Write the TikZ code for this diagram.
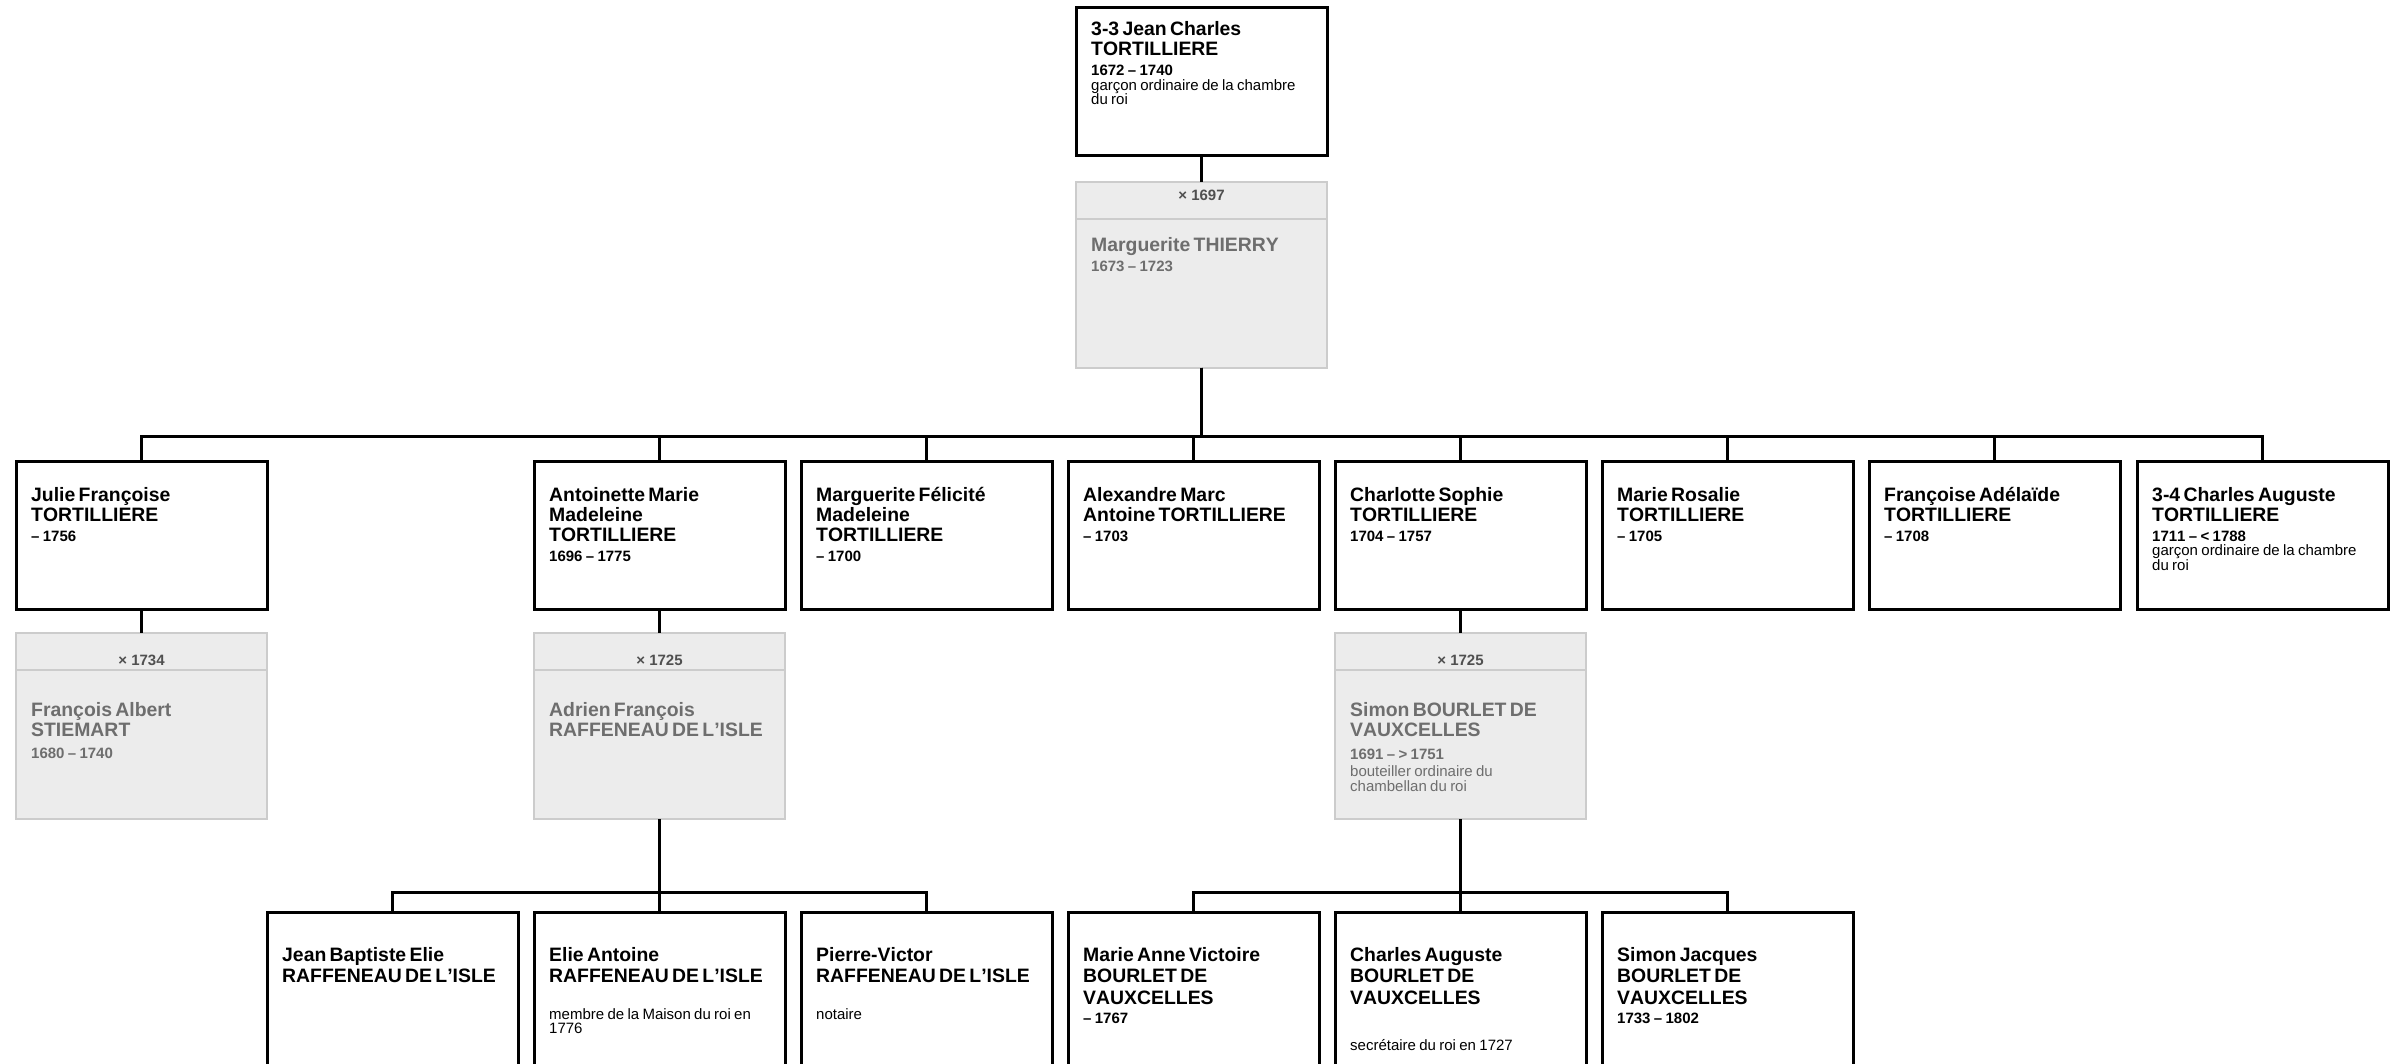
\documentclass[tikz,border=0pt]{standalone}
\usepackage{fontspec}
\setmainfont{Liberation Sans}[Kerning=Off]
\usepackage{tikz}
\definecolor{spousefill}{HTML}{ECECEC}
\definecolor{spouseline}{HTML}{CCCCCC}
\definecolor{spousetext}{HTML}{6E6E6E}
\definecolor{spousehead}{HTML}{505050}
\newcommand{\nm}{\fontsize{19.4}{20}\selectfont\bfseries}
\newcommand{\dt}{\fontsize{15}{20}\selectfont\bfseries}
\newcommand{\oc}{\fontsize{15}{14.5}\selectfont\mdseries}
\tikzset{
  conn/.style={line width=3pt, black},
  personbox/.style={draw, line width=3pt, minimum width=251pt, minimum height=148pt, inner sep=0pt, outer sep=0pt, anchor=north},
  spousebox/.style={draw=spouseline, fill=spousefill, line width=2pt, minimum width=251pt, minimum height=186pt, inner sep=0pt, outer sep=0pt, anchor=north},
  boxtext/.style={anchor=base west, inner sep=0pt, text width=236pt, align=left},
  headtext/.style={anchor=base, inner sep=0pt, text=spousehead, font=\fontsize{15}{15}\selectfont\bfseries},
}
% #1 id, #2 left, #3 top, #4 first baseline, #5 text
\newcommand{\person}[5]{
  \node[personbox] (#1) at (#2+125.5, #3) {};
  \node[boxtext] (#1-t) at (#2+15, #3+#4) {#5\par};
}
% #1 id, #2 left, #3 top, #4 marriage, #5 its baseline, #6 first baseline, #7 text
\newcommand{\spouse}[7]{
  \node[spousebox] (#1) at (#2+125.5, #3) {};
  \draw[spouseline, line width=2pt] (#2, #3+37) -- (#2+251, #3+37);
  \node[headtext] (#1-h) at (#2+125.5, #3+#5) {#4};
  \node[boxtext, text=spousetext] (#1-t) at (#2+15, #3+#6) {#7\par};
}

\begin{document}
\begin{tikzpicture}[x=1pt, y=-1pt]
  \clip (0,0) rectangle (2390,1064);
  % generation 1
  \person{jean}{1076}{8}{28}{\nm 3-3 Jean Charles\\TORTILLIERE\\\dt 1672 – 1740\\\oc garçon ordinaire de la chambre\\du roi}
  \spouse{thierry}{1076}{182}{× 1697}{19}{70}{\nm Marguerite THIERRY\\\dt 1673 – 1723}
  % generation 2
  \person{julie}{16}{461}{40}{\nm Julie Françoise\\TORTILLIERE\\\dt – 1756}
  \person{antoinette}{534}{461}{40}{\nm Antoinette Marie\\Madeleine\\TORTILLIERE\\\dt 1696 – 1775}
  \person{felicite}{801}{461}{40}{\nm Marguerite Félicité\\Madeleine\\TORTILLIERE\\\dt – 1700}
  \person{alexandre}{1068}{461}{40}{\nm Alexandre Marc\\Antoine TORTILLIERE\\\dt – 1703}
  \person{charlotte}{1335}{461}{40}{\nm Charlotte Sophie\\TORTILLIERE\\\dt 1704 – 1757}
  \person{rosalie}{1602}{461}{40}{\nm Marie Rosalie\\TORTILLIERE\\\dt – 1705}
  \person{adelaide}{1869}{461}{40}{\nm Françoise Adélaïde\\TORTILLIERE\\\dt – 1708}
  \person{charles}{2137}{461}{40}{\nm 3-4 Charles Auguste\\TORTILLIERE\\\dt 1711 – < 1788\\\oc garçon ordinaire de la chambre\\du roi}
  % spouses
  \spouse{stiemart}{16}{633}{× 1734}{32}{83}{\nm François Albert\\STIEMART\\[2pt]\dt 1680 – 1740}
  \spouse{adrien}{534}{633}{× 1725}{32}{83}{\nm Adrien François\\RAFFENEAU DE L'ISLE}
  \spouse{simon}{1335}{633}{× 1725}{32}{83}{\nm Simon BOURLET DE\\VAUXCELLES\\[3pt]\dt 1691 – > 1751\\[3pt]\oc bouteiller ordinaire du\\chambellan du roi}
  % generation 3
  \begin{scope}[personbox/.append style={minimum height=175pt}]
  \renewcommand{\nm}{\fontsize{19.4}{21.5}\selectfont\bfseries}
  \renewcommand{\dt}{\fontsize{15}{19}\selectfont\bfseries}
  \person{jbelie}{267}{912}{49}{\nm Jean Baptiste Elie\\RAFFENEAU DE L'ISLE}
  \person{elie}{534}{912}{49}{\nm Elie Antoine\\RAFFENEAU DE L'ISLE\\[22pt]\oc membre de la Maison du roi en\\1776}
  \person{pierre}{801}{912}{49}{\nm Pierre-Victor\\RAFFENEAU DE L'ISLE\\[22pt]\oc notaire}
  \person{marieanne}{1068}{912}{49}{\nm Marie Anne Victoire\\BOURLET DE\\VAUXCELLES\\\dt – 1767}
  \person{charlesaug}{1335}{912}{49}{\nm Charles Auguste\\BOURLET DE\\VAUXCELLES\\[32pt]\oc secrétaire du roi en 1727}
  \person{simonj}{1602}{912}{49}{\nm Simon Jacques\\BOURLET DE\\VAUXCELLES\\\dt 1733 – 1802}
  \end{scope}
  % connectors
  \draw[conn] (jean) -- (thierry);
  \foreach \c in {julie,antoinette,felicite,alexandre,charlotte,rosalie,adelaide,charles}
    \draw[conn] (thierry.south) -- ++(0,68) -| (\c.north);
  \draw[conn] (julie) -- (stiemart);
  \draw[conn] (antoinette) -- (adrien);
  \draw[conn] (charlotte) -- (simon);
  \foreach \c in {jbelie,elie,pierre}
    \draw[conn] (adrien.south) -- ++(0,73) -| (\c.north);
  \foreach \c in {marieanne,charlesaug,simonj}
    \draw[conn] (simon.south) -- ++(0,73) -| (\c.north);
\end{tikzpicture}
\end{document}
